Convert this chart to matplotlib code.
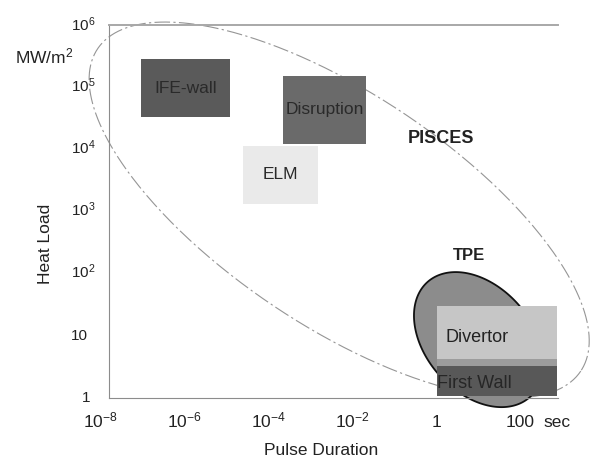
import numpy as np
import matplotlib
matplotlib.use("Agg")
import matplotlib.pyplot as plt
import matplotlib.transforms as mtransforms
from matplotlib.patches import Rectangle

plt.rcParams['font.family'] = ['Liberation Sans', 'DejaVu Sans']
plt.rcParams['mathtext.fontset'] = 'custom'
plt.rcParams['mathtext.rm'] = 'Liberation Sans'
plt.rcParams['mathtext.it'] = 'Liberation Sans:italic'
plt.rcParams['mathtext.bf'] = 'Liberation Sans:bold'

# ---------------- data ----------------
x_tick_exp = [-8, -6, -4, -2, 0, 2]
x_tick_labels = ['10$^{-8}$', '10$^{-6}$', '10$^{-4}$', '10$^{-2}$', '1', '100']
y_tick_exp = [0, 1, 2, 3, 4, 5, 6]
y_tick_labels = ['1', '10', '10$^{2}$', '10$^{3}$', '10$^{4}$', '10$^{5}$', '10$^{6}$']

box_names = ['IFE-wall', 'Disruption', 'ELM', 'Divertor', '', 'First Wall']
box_x0 = [9.0e-8, 2.2e-4, 2.5e-5, 1.0, 1.0, 1.0]
box_x1 = [1.2e-5, 2.1e-2, 1.5e-3, 740, 740, 740]
box_y0 = [3.2e4, 1.2e4, 1.3e3, 4.0, 3.06, 1.0]
box_y1 = [2.8e5, 1.5e5, 1.1e4, 29, 4.0, 3.06]
box_colors = ['#5a5a5a', '#6a6a6a', '#eaeaea', '#c6c6c6', '#9c9c9c', '#585858']

# regions (log10 centre, semi-axes in display pixels, tilt in degrees)
pisces_center = (-2.32, 3.01)
pisces_axes = (290.4, 116.2)
pisces_tilt = 33.7
tpe_center = (1.0, 0.914)
tpe_axes = (77.0, 53.0)
tpe_tilt = 48.5

# ---------------- figure ----------------
W, H = 590, 459
fig = plt.figure(figsize=(W / 100, H / 100), dpi=100)
L, R, T, B = 109, 558, 25, 398
ax = fig.add_axes([L / W, 1 - B / H, (R - L) / W, (B - T) / H])
ax.set_xscale('log')
ax.set_yscale('log')
xlo, xhi = -7.80, 2.89
ylo, yhi = -0.03, 6.0
ax.set_xlim(10 ** xlo, 10 ** xhi)
ax.set_ylim(10 ** ylo, 10 ** yhi)
px_per_dec_x = (R - L) / (xhi - xlo)
px_per_dec_y = (B - T) / (yhi - ylo)

ax.tick_params(which='both', length=0, labelbottom=False, labelleft=False)
ax.xaxis.set_minor_locator(matplotlib.ticker.NullLocator())
ax.yaxis.set_minor_locator(matplotlib.ticker.NullLocator())
ax.spines['right'].set_visible(False)
ax.spines['left'].set_color('#8c8c8c')
ax.spines['bottom'].set_color('#8c8c8c')
ax.spines['top'].set_color('#a8a8a8')
ax.spines['top'].set_linewidth(1.4)


def ellipse_pts(center, axes_, tilt):
    t = np.linspace(0, 2 * np.pi, 400)
    a, b = axes_
    th = np.deg2rad(tilt)
    dx = a * np.cos(t) * np.cos(th) - b * np.sin(t) * np.sin(th)
    dy = a * np.cos(t) * np.sin(th) + b * np.sin(t) * np.cos(th)
    lx = center[0] + dx / px_per_dec_x
    ly = center[1] - dy / px_per_dec_y
    return 10 ** lx, 10 ** ly


# PISCES ellipse
ex, ey = ellipse_pts(pisces_center, pisces_axes, pisces_tilt)
ax.plot(ex, ey, color='#959595', lw=0.8, linestyle=(0, (14, 3, 2, 3)),
        clip_on=False, zorder=1)

# TPE blob
tx, ty = ellipse_pts(tpe_center, tpe_axes, tpe_tilt)
ax.fill(tx, ty, facecolor='#8c8c8c', edgecolor='#111111', lw=1.3,
        clip_on=False, zorder=2)

# boxes
for name, x0, x1, y0, y1, c in zip(box_names, box_x0, box_x1, box_y0, box_y1, box_colors):
    ax.add_patch(Rectangle((x0, y0), x1 - x0, y1 - y0, facecolor=c,
                           edgecolor='none', zorder=3, clip_on=False))

def gmean(a, b):
    return np.sqrt(a * b)

for i in range(3):
    ax.text(gmean(box_x0[i], box_x1[i]), gmean(box_y0[i], box_y1[i]), box_names[i],
            ha='center', va='center', fontsize=12.5, color='#2a2a2a', zorder=5)
ax.text(1.6, 9.0, box_names[3], ha='left', va='center', fontsize=13,
        color='#222222', zorder=5)
ax.text(1.0, 1.62, box_names[5], ha='left', va='center', fontsize=13,
        color='#262626', zorder=5)

ax.text(1.28, 1.24e4, 'PISCES', ha='center', va='baseline', fontsize=13,
        fontweight='bold', color='#222222', zorder=5)
ax.text(5.8, 158, 'TPE', ha='center', va='baseline', fontsize=12,
        fontweight='bold', color='#222222', zorder=5)

# tick labels
xt = mtransforms.blended_transform_factory(ax.transData, ax.transAxes)
for e, lab in zip(x_tick_exp, x_tick_labels):
    ax.text(10.0 ** e, (B - 427) / (B - T), lab, transform=xt, ha='center',
            va='baseline', fontsize=12.5, color='#222222', clip_on=False)
ax.text((543 - L) / (R - L), (B - 427) / (B - T), 'sec', transform=ax.transAxes,
        ha='left', va='baseline', fontsize=12.5, color='#222222')

yt = mtransforms.blended_transform_factory(ax.transAxes, ax.transData)
yt = yt + mtransforms.ScaledTranslation(0, -5.5 / 100, fig.dpi_scale_trans)
for e, lab in zip(y_tick_exp, y_tick_labels):
    if lab == '1':
        ax.text((90 - L) / (R - L), 10.0 ** e, lab, transform=yt, ha='right',
                va='baseline', fontsize=11, color='#222222', clip_on=False)
    else:
        ax.text((71 - L) / (R - L), 10.0 ** e, lab, transform=yt, ha='left',
                va='baseline', fontsize=11, color='#222222', clip_on=False)

# axis labels
ax.text((321 - L) / (R - L), (B - 455) / (B - T), 'Pulse Duration',
        transform=ax.transAxes, ha='center', va='baseline', fontsize=12.5,
        color='#222222')
ax.text((46 - L) / (R - L), (B - 244) / (B - T), 'Heat Load',
        transform=ax.transAxes, ha='center', va='center', rotation=90,
        fontsize=12.5, color='#222222')
ax.text((15 - L) / (R - L), (B - 63) / (B - T), 'MW/m$^{2}$',
        transform=ax.transAxes, ha='left', va='baseline', fontsize=12.5,
        color='#222222')

fig.savefig('out.png', dpi=100)
